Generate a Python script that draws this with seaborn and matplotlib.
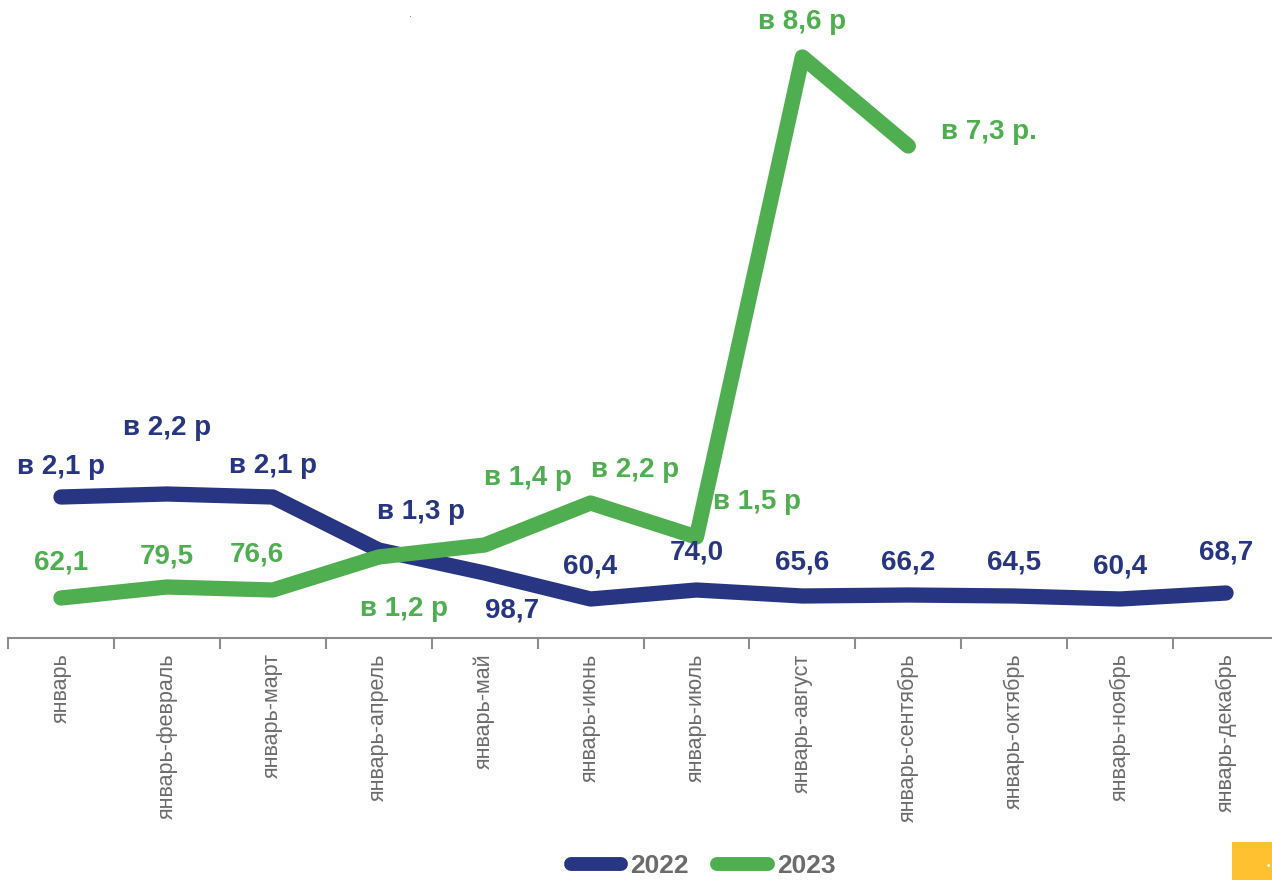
import matplotlib
matplotlib.use("Agg")
import matplotlib.pyplot as plt
import numpy as np
import pandas as pd
import seaborn as sns
from matplotlib.lines import Line2D
from matplotlib.patches import Rectangle

# categories (cumulative periods)
months = [
    "январь", "январь-февраль", "январь-март", "январь-апрель", "январь-май",
    "январь-июнь", "январь-июль", "январь-август", "январь-сентябрь",
    "январь-октябрь", "январь-ноябрь", "январь-декабрь",
]

# series heights (relative units)
values_2022 = [141, 144, 141, 88, 65, 39, 48, 42, 43, 42, 39, 45]
values_2023 = [40, 51, 48, 81, 93, 135, 101, 581, 492]

# data labels as printed on the chart
labels_2022 = ["в 2,1 р", "в 2,2 р", "в 2,1 р", "в 1,3 р", "98,7", "60,4",
               "74,0", "65,6", "66,2", "64,5", "60,4", "68,7"]
labels_2023 = ["62,1", "79,5", "76,6", "в 1,2 р", "в 1,4 р", "в 2,2 р",
               "в 1,5 р", "в 8,6 р", "в 7,3 р."]

# label offsets in pixels (dx, dy)
offsets_2022 = [(0, 30), (0, 66), (0, 31), (42, 38), (27, -37), (0, 33),
                (0, 37), (0, 33), (0, 33), (0, 34), (0, 33), (0, 40)]
offsets_2023 = [(0, 35), (0, 30), (-16, 35), (25, -52), (43, 67), (45, 33),
                (61, 35), (0, 35), (81, 14)]

NAVY = "#283582"
GREEN = "#4FAF50"
GREY = "#6b6b6b"

sns.set_style("white")
plt.rcParams["font.family"] = ["Liberation Sans", "DejaVu Sans"]

df = pd.concat([
    pd.DataFrame({"x": np.arange(len(values_2022)), "value": values_2022, "year": "2022"}),
    pd.DataFrame({"x": np.arange(len(values_2023)), "value": values_2023, "year": "2023"}),
])

W, H = 1272, 880
fig = plt.figure(figsize=(W / 100, H / 100), dpi=100)
ax = fig.add_axes([8 / W, 1 - 638 / H, (1279 - 8) / W, 638 / H])

sns.lineplot(
    data=df, x="x", y="value", hue="year",
    palette={"2022": NAVY, "2023": GREEN},
    linewidth=11, legend=False, ax=ax,
    solid_capstyle="round", solid_joinstyle="round",
)

ax.set_xlim(-0.5, 11.5)
ax.set_ylim(0, 638)
ax.set_xlabel("")
ax.set_ylabel("")
ax.set_yticks([])
for side in ["top", "right", "left"]:
    ax.spines[side].set_visible(False)
ax.spines["bottom"].set_color("#8c8c8c")
ax.spines["bottom"].set_linewidth(1.5)

ax.set_xticks(np.arange(len(months)))
ax.set_xticklabels(months, rotation=90, fontsize=15.5, color=GREY)
ax.set_xticks(np.arange(-0.5, 12, 1), minor=True)
ax.tick_params(axis="x", which="major", bottom=True, length=0, pad=11)
ax.tick_params(axis="x", which="minor", bottom=True, length=8, width=1.5,
               color="#8c8c8c", direction="out")

for vals, labs, offs, col in [
    (values_2022, labels_2022, offsets_2022, NAVY),
    (values_2023, labels_2023, offsets_2023, GREEN),
]:
    for i, (v, lab, (dx, dy)) in enumerate(zip(vals, labs, offs)):
        ax.annotate(lab, (i, v), xytext=(dx, dy), textcoords="offset pixels",
                    ha="center", va="center", fontsize=20, fontweight="bold",
                    color=col, annotation_clip=False)

handles = [
    Line2D([], [], color=NAVY, linewidth=10, solid_capstyle="round"),
    Line2D([], [], color=GREEN, linewidth=10, solid_capstyle="round"),
]
leg = fig.legend(handles, ["2022", "2023"], loc="center", bbox_to_anchor=(703 / W, 1 - 866 / H),
                 ncol=2, frameon=False, handlelength=1.9, handletextpad=0.35,
                 columnspacing=1.1, prop={"size": 19, "weight": "bold"})
for t in leg.get_texts():
    t.set_color(GREY)

# decorative bits
fig.patches.append(Rectangle((1232 / W, 0), 40 / W, 38 / H, transform=fig.transFigure,
                             facecolor="#FFC12F", edgecolor="none"))
fig.text(1268 / W, 1 - 866 / H, "•", fontsize=7, color="white", ha="center", va="center")
fig.text(410 / W, 1 - 14 / H, ".", fontsize=8, color="#777777", ha="center", va="center")

fig.savefig("out.png", dpi=100)
